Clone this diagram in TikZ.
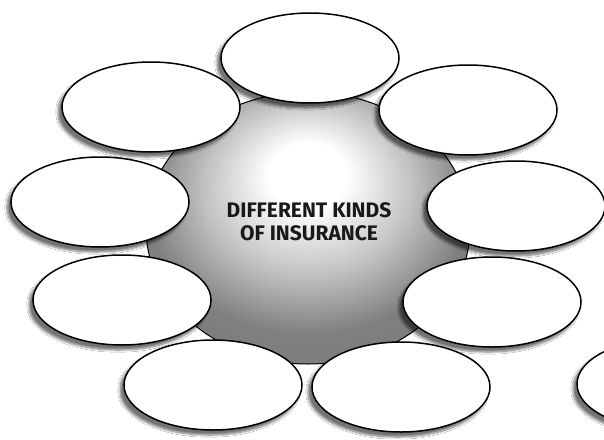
\documentclass[tikz,border=0pt]{standalone}
\usepackage{fontspec}
\setmainfont{Fira Sans}
\usetikzlibrary{shapes.geometric,shadows.blur}
\pgfdeclareradialshading{hubshade}{\pgfpoint{0bp}{11bp}}{color(0bp)=(white); color(6bp)=(white); color(16bp)=(black!24); color(25bp)=(black!50); color(50bp)=(black!55)}
\tikzset{
  bubble/.style={ellipse, draw=black, line width=1.5pt, fill=white,
    minimum width=178pt, minimum height=90pt, inner sep=0pt,
    blur shadow={shadow xshift=-4pt, shadow yshift=-5pt, shadow blur steps=8,
      shadow blur extra rounding=2pt, shadow opacity=55}},
  hubstyle/.style={ellipse, draw=black, line width=1pt, shading=hubshade,
    minimum width=324pt, minimum height=272pt, inner sep=0pt},
  titletext/.style={font=\bfseries\fontsize{21}{23.5}\selectfont, align=center, text=black!90}
}
\begin{document}
\begin{tikzpicture}[x=1pt,y=-1pt]
\useasboundingbox (0,0) rectangle (604,439);
\clip (0,0) rectangle (604,439);
\fill[white] (0,0) rectangle (604,439);
\node[hubstyle] (hub) at (308,228) {};
\node[titletext] (title) at (309,221.5) {DIFFERENT KINDS\\OF INSURANCE};
\node[bubble] (top) at (310,58) {};
\node[bubble] (upleft) at (151,107) {};
\node[bubble] (upright) at (468,110) {};
\node[bubble] (left) at (100,202) {};
\node[bubble] (right) at (516,206) {};
\node[bubble] (lowleft) at (122,300) {};
\node[bubble] (lowright) at (492,302) {};
\node[bubble] (botleft) at (213,385) {};
\node[bubble] (botright) at (401,387) {};
\node[bubble] (edge) at (666,384) {};
\end{tikzpicture}
\end{document}
